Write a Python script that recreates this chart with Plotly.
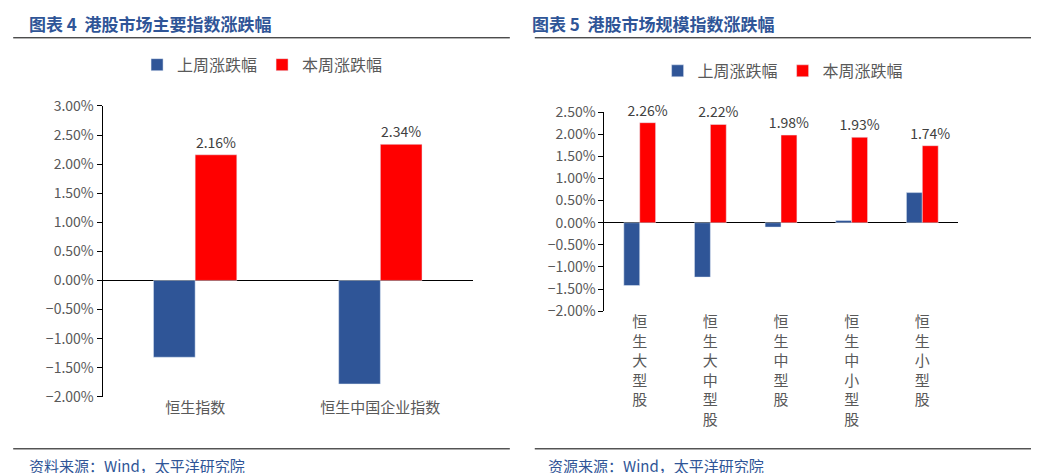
import plotly.graph_objects as go

# 图表4 数据
cats_main = ["恒生指数", "恒生中国企业指数"]
last_main = [-1.32, -1.78]
this_main = [2.16, 2.34]

# 图表5 数据
cats_size = ["恒生大型股", "恒生大中型股", "恒生中型股", "恒生中小型股", "恒生小型股"]
last_size = [-1.42, -1.23, -0.10, 0.05, 0.68]
this_size = [2.26, 2.22, 1.98, 1.93, 1.74]

BLUE = "#2F5597"
RED = "#FF0000"
GREY = "#595959"
FONT = "Noto Sans CJK SC"

vert = ["<br>".join(list(c)) for c in cats_size]

fig = go.Figure()
fig.add_bar(x=cats_main, y=last_main, name="上周涨跌幅", marker_color=BLUE,
            legend="legend", xaxis="x", yaxis="y")
fig.add_bar(x=cats_main, y=this_main, name="本周涨跌幅", marker_color=RED,
            text=[f"{v:.2f}%" for v in this_main], textposition="outside",
            constraintext="none", textfont=dict(size=14, color="#404040"), cliponaxis=False,
            legend="legend", xaxis="x", yaxis="y")
fig.add_bar(x=vert, y=last_size, name="上周涨跌幅", marker_color=BLUE,
            legend="legend2", xaxis="x2", yaxis="y2")
fig.add_bar(x=vert, y=this_size, name="本周涨跌幅", marker_color=RED,
            text=[f"{v:.2f}%" for v in this_size], textposition="outside",
            constraintext="none", textfont=dict(size=14, color="#404040"), cliponaxis=False,
            legend="legend2", xaxis="x2", yaxis="y2")

yax = dict(tickformat=".2f", ticksuffix="%", showgrid=False, zeroline=True,
           zerolinecolor="black", zerolinewidth=1, showline=True, linecolor="black",
           ticks="outside", ticklen=5, tickcolor="black", automargin=False,
           tickfont=dict(size=14, color=GREY, family=FONT))
xax = dict(showgrid=False, showline=False, ticks="", automargin=False,
           tickfont=dict(size=15, color=GREY, family=FONT))

leg = dict(orientation="h", xanchor="center", yanchor="middle",
           font=dict(size=16, color=GREY, family=FONT), itemwidth=30,
           bgcolor="rgba(0,0,0,0)")

fig.update_layout(
    width=1039, height=473, margin=dict(l=0, r=0, t=0, b=0, autoexpand=False),
    paper_bgcolor="white", plot_bgcolor="white",
    barmode="group", bargap=0.55, bargroupgap=0,
    font=dict(family=FONT),
    xaxis=dict(domain=[0.091, 0.4475], anchor="y", **xax),
    yaxis=dict(domain=[0.178, 0.793], anchor="x", range=[-2, 3], dtick=0.5, **yax),
    xaxis2=dict(domain=[0.574, 0.914], anchor="y2", **xax),
    yaxis2=dict(domain=[0.359, 0.780], anchor="x2", range=[-2, 2.5], dtick=0.5, **yax),
    legend=dict(x=0.245, y=0.88, **leg),
    legend2=dict(x=0.746, y=0.867, **leg),
    shapes=[
        dict(type="line", xref="paper", yref="paper", x0=0.005, x1=0.483, y0=0.937, y1=0.937,
             line=dict(color="black", width=1)),
        dict(type="line", xref="paper", yref="paper", x0=0.507, x1=0.998, y0=0.937, y1=0.937,
             line=dict(color="black", width=1)),
        dict(type="line", xref="paper", yref="paper", x0=0.005, x1=0.483, y0=0.068, y1=0.068,
             line=dict(color="black", width=1)),
        dict(type="line", xref="paper", yref="paper", x0=0.507, x1=0.998, y0=0.068, y1=0.068,
             line=dict(color="black", width=1)),
    ],
    annotations=[
        dict(text="<b>图表 4  港股市场主要指数涨跌幅</b>", xref="paper", yref="paper",
             x=0.018, y=0.968, xanchor="left", yanchor="middle", showarrow=False,
             font=dict(size=17, color=BLUE, family=FONT)),
        dict(text="<b>图表 5  港股市场规模指数涨跌幅</b>", xref="paper", yref="paper",
             x=0.502, y=0.968, xanchor="left", yanchor="middle", showarrow=False,
             font=dict(size=17, color=BLUE, family=FONT)),
        dict(text="资料来源：Wind，太平洋研究院", xref="paper", yref="paper",
             x=0.018, y=0.032, xanchor="left", yanchor="middle", showarrow=False,
             font=dict(size=15, color=BLUE, family=FONT)),
        dict(text="资源来源：Wind，太平洋研究院", xref="paper", yref="paper",
             x=0.518, y=0.032, xanchor="left", yanchor="middle", showarrow=False,
             font=dict(size=15, color=BLUE, family=FONT)),
    ],
)

fig.write_html("out.html")
